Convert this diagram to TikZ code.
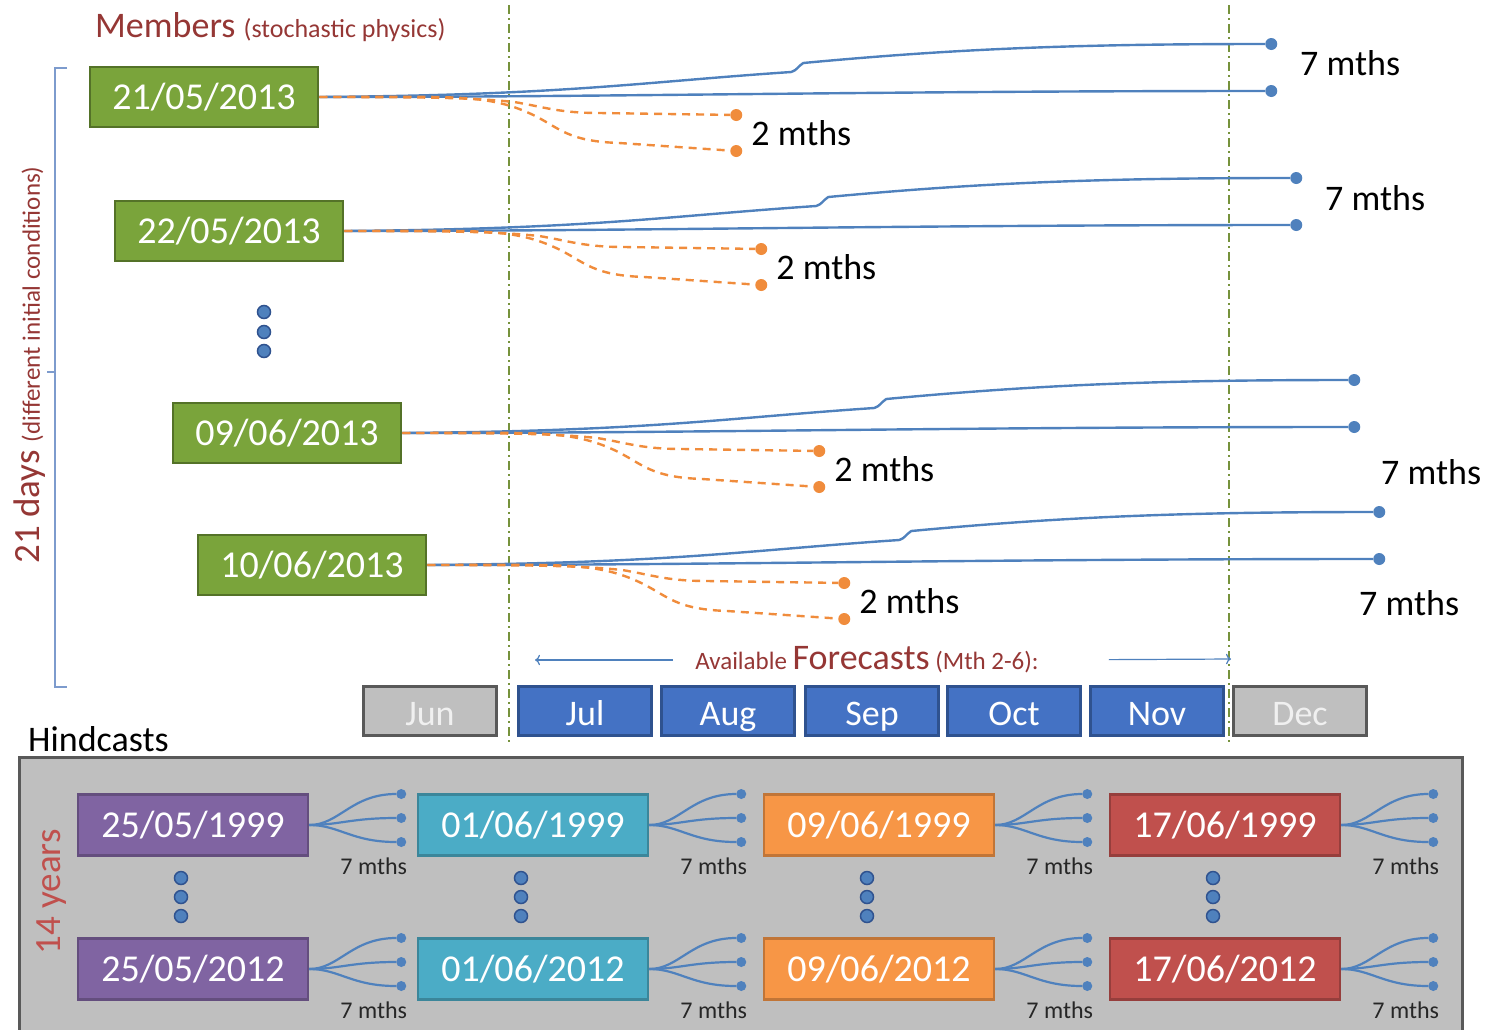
\documentclass[tikz,border=0pt]{standalone}
\usepackage{fontspec}
\setmainfont{Carlito}
\definecolor{runblue}{RGB}{79,129,189}
\definecolor{runorange}{RGB}{240,140,60}
\definecolor{boxgreen}{RGB}{122,164,59}
\definecolor{boxgreenedge}{RGB}{84,114,40}
\definecolor{titlered}{RGB}{149,55,53}
\definecolor{guideolive}{RGB}{118,146,60}
\definecolor{bracketblue}{RGB}{125,155,205}
\definecolor{fcblue}{RGB}{68,114,196}
\definecolor{fcedge}{RGB}{47,82,143}
\definecolor{panelgrey}{RGB}{191,191,191}
\definecolor{edgegrey}{RGB}{89,89,89}
\definecolor{hpurple}{RGB}{128,100,162}
\definecolor{hteal}{RGB}{75,172,198}
\definecolor{horange}{RGB}{247,150,70}
\definecolor{hred}{RGB}{192,80,77}
\usetikzlibrary{arrows.meta, calc, positioning}
\tikzset{
	datebox/.style={draw=boxgreenedge, fill=boxgreen, line width=2.5pt, minimum width=228pt, minimum height=60pt, inner sep=0pt, text=white, font=\fontsize{38}{40}\selectfont},
	hbox/.style={line width=2.5pt, minimum width=230pt, minimum height=61pt, inner sep=0pt, text=white, font=\fontsize{38}{40}\selectfont},
	fcbox/.style={draw=fcedge, fill=fcblue, line width=2.5pt, minimum width=133pt, minimum height=49pt, inner sep=0pt, text height=28pt, text depth=0pt, text=white, font=\fontsize{36}{38}\selectfont},
	greybox/.style={fcbox, draw=edgegrey, fill=panelgrey, text=white!94!black},
	run/.style={runblue, line width=2.4pt},
	short/.style={runorange, line width=2.4pt, dash pattern=on 8pt off 6pt},
	fan/.style={runblue, line width=2.2pt},
	bdot/.style={circle, fill=runblue, minimum size=12pt, inner sep=0pt},
	odot/.style={circle, fill=runorange, minimum size=12pt, inner sep=0pt},
	fdot/.style={circle, fill=runblue, minimum size=10pt, inner sep=0pt},
	edot/.style={circle, fill=runblue, draw=fcedge, line width=1.5pt, minimum size=13pt, inner sep=0pt},
	lbl/.style={inner sep=0pt, font=\fontsize{36}{36}\selectfont},
	smalllbl/.style={inner sep=0pt, text=black!85, font=\fontsize{24}{24}\selectfont},
	guide/.style={guideolive, line width=1.8pt, dash pattern=on 9pt off 4pt on 2pt off 4pt},
}

\begin{document}
\begin{tikzpicture}[x=1pt, y=-1pt]
	\useasboundingbox (0,0) rectangle (1493,1029);
	% month guides
	\draw[guide] (509,5) -- (509,742);
	\draw[guide] (1229,5) -- (1229,742);
	% members
	\node[anchor=base west, inner sep=0pt, text=titlered, font=\fontsize{36}{36}\selectfont] (memb) at (95,37) {Members {\fontsize{26}{26}\selectfont(stochastic physics)}};
	\draw[bracketblue, line width=1.8pt] (67,68) -- (55,68) -- (55,687) -- (67,687);
	\draw[bracketblue, line width=1.8pt] (55,372) -- (47,372);
	\node[rotate=90, inner sep=0pt, text=titlered, font=\fontsize{37}{37}\selectfont] (days) at (30,365) {21 days {\fontsize{25}{25}\selectfont(different initial conditions)}};
	\node[datebox] (m1) at (204,97) {21/05/2013};
	\node[datebox] (m2) at (229,231) {22/05/2013};
	\node[datebox] (m3) at (287,433) {09/06/2013};
	\node[datebox] (m4) at (312,565) {10/06/2013};
	\foreach \y in {312,332,351} \node[edot] (md\y) at (264,\y) {};
	\foreach \m/\lx/\ly in {m1/1300/63, m2/1325/198, m3/1381/472, m4/1359/603}{
		\node[bdot] (\m-t) at ($(\m.east)+(952,-53)$) {};
		\node[bdot] (\m-l) at ($(\m.east)+(952,-6)$) {};
		\node[odot] (\m-o1) at ($(\m.east)+(417,18)$) {};
		\node[odot] (\m-o2) at ($(\m.east)+(417,54)$) {};
		\coordinate (\m-k1) at ($(\m.east)+(472,-25)$);
		\coordinate (\m-k2) at ($(\m.east)+(484,-34)$);
		\draw[run] (\m.east) .. controls +(250,-2) and +(-150,10) .. (\m-k1) .. controls +(6,-2) and +(-6,4) .. (\m-k2) .. controls +(150,-14) and +(-200,0) .. (\m-t);
		\draw[run] (\m.east) .. controls +(300,0) and +(-400,0) .. (\m-l);
		\draw[short] (\m.east) .. controls +(120,0) and +(-40,-4) .. ++(195,5) .. controls +(30,5) and +(-40,0) .. ++(85,11) -- (\m-o1);
		\draw[short] (\m.east) .. controls +(120,0) and +(-40,-15) .. ++(200,12) .. controls +(40,15) and +(-60,-2) .. ++(100,34) -- (\m-o2);
		\node[lbl, anchor=west] (\m-two) at ($(\m-o1)!0.5!(\m-o2)+(15,0)$) {2 mths};
		\node[lbl, anchor=west] (\m-seven) at (\lx,\ly) {7 mths};
	}
	% months
	\foreach \n/\x/\s in {Jun/430/greybox, Jul/585/fcbox, Aug/728/fcbox, Sep/872/fcbox, Oct/1014/fcbox, Nov/1157/fcbox, Dec/1300/greybox}
		\node[\s] (mo\n) at (\x,711) {\n};
	\node[inner sep=0pt, text=titlered, font=\fontsize{25}{25}\selectfont] (avail) at (867,660) {Available {\fontsize{36}{36}\selectfont Forecasts} (Mth 2-6):};
	\coordinate (arrL) at (535,660);
	\coordinate (arrR) at (1231,659);
	\draw[runblue, line width=1.2pt, -{To[length=5pt]}, shorten <=22pt] (avail.west) -- (arrL);
	\draw[runblue, line width=1.2pt, -{To[length=5pt]}, shorten <=70pt] (avail.east) -- (arrR);
	% hindcasts
	\node[anchor=west, inner sep=0pt, font=\fontsize{36}{36}\selectfont] (hind) at (28,739) {Hindcasts};
	\draw[fill=panelgrey, draw=edgegrey, line width=3pt] (19,757) rectangle (1462,1045);
	\node[rotate=90, inner sep=0pt, text=hred, font=\fontsize{37}{37}\selectfont] (yrs) at (52,892) {14 years};
	\foreach \c/\x/\col/\dd/\mm in {a/193/hpurple/25/05, b/533/hteal/01/06, c/879/horange/09/06, d/1225/hred/17/06}{
		\foreach \r/\y/\yr in {1/825/1999, 2/969/2012}{
			\node[hbox, fill=\col, draw=\col!78!black] (\c\r) at (\x,\y) {\dd/\mm/\yr};
			\node[fdot] (\c\r-1) at ($(\c\r.east)+(92,-31)$) {};
			\node[fdot] (\c\r-2) at ($(\c\r.east)+(92,-7)$) {};
			\node[fdot] (\c\r-3) at ($(\c\r.east)+(92,17)$) {};
			\draw[fan] (\c\r.east) .. controls +(30,0) and +(-50,0) .. (\c\r-1);
			\draw[fan] (\c\r.east) .. controls +(30,0) and +(-50,0) .. (\c\r-2);
			\draw[fan] (\c\r.east) .. controls +(30,0) and +(-50,0) .. (\c\r-3);
			\node[smalllbl, anchor=east] (\c\r-lbl) at ($(\c\r.east)+(98,41)$) {7 mths};
		}
		\foreach \y in {878,897,916} \node[edot] (\c-e\y) at (\x-12,\y) {};
	}
\end{tikzpicture}
\end{document}
